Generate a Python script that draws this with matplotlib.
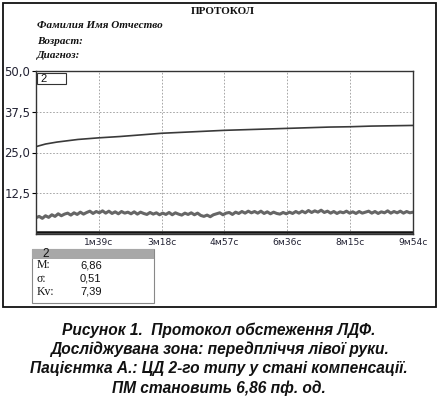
import numpy as np
import matplotlib.pyplot as plt
from matplotlib.patches import Rectangle

# ---- data ----
# upper (slowly rising) trace
upper_t = [0, 15, 33, 66, 99, 132, 165, 198, 231, 264, 297, 330, 363, 396,
           429, 462, 495, 528, 561, 594]
upper_v = [26.8, 27.6, 28.2, 29.0, 29.5, 29.9, 30.4, 30.9, 31.2, 31.5, 31.8,
           32.0, 32.2, 32.4, 32.6, 32.8, 32.9, 33.1, 33.2, 33.3]

# noisy perfusion trace, one value every 5 s
noisy_v = [
    5.0, 5.4, 4.8, 5.6, 5.1, 5.9, 5.4, 6.2, 5.6, 6.1,
    6.4, 5.8, 6.5, 6.0, 6.7, 6.1, 6.6, 7.0, 6.3, 6.9,
    6.5, 7.1, 6.4, 7.0, 6.3, 6.8, 6.2, 6.9, 6.4, 6.7,
    6.2, 6.8, 6.1, 6.7, 6.3, 6.0, 6.6, 6.1, 6.5, 5.9,
    6.4, 6.0, 6.6, 5.9, 6.5, 6.1, 5.8, 6.4, 6.0, 6.5,
    5.9, 6.4, 5.7, 5.4, 5.8, 5.3, 5.9, 6.2, 6.5, 5.9,
    6.4, 6.6, 6.0, 6.7, 6.3, 6.9, 6.4, 7.0, 6.5, 6.9,
    6.4, 7.0, 6.3, 6.8, 6.2, 6.7, 6.3, 6.1, 6.6, 6.2,
    6.7, 6.3, 6.9, 6.4, 7.0, 6.5, 7.2, 6.6, 7.1, 6.7,
    7.3, 6.6, 7.0, 6.4, 6.9, 6.3, 6.8, 6.5, 7.0, 6.4,
    6.8, 6.3, 6.9, 6.4, 6.7, 7.0, 6.4, 6.9, 6.3, 6.8,
    6.5, 7.1, 6.4, 6.9, 6.5, 7.0, 6.4, 6.9, 6.5, 6.7,
]
noisy_t = np.linspace(0, 594, len(noisy_v))

# baseline trace near zero
base_t = [0, 594]
base_v = [0.6, 0.6]

x_ticks = [99, 198, 297, 396, 495, 594]
x_labels = ["1м39с", "3м18с", "4м57с", "6м36с", "8м15с", "9м54с"]
y_ticks = [12.5, 25.0, 37.5, 50.0]
y_labels = ["12,5", "25,0", "37,5", "50,0"]

stat_names = ["M:", "σ:", "Kv:"]
stat_values = ["6,86", "0,51", "7,39"]

caption = [
    "Рисунок 1.  Протокол обстеження ЛДФ.",
    "Досліджувана зона: передпліччя лівої руки.",
    "Пацієнтка А.: ЦД 2-го типу у стані компенсації.",
    "ПМ становить 6,86 пф. од.",
]

W, H = 439, 398
fig = plt.figure(figsize=(W / 100, H / 100), dpi=100)
fig.patch.set_facecolor("white")


def fx(px):
    return px / W


def fy(py):
    return 1 - py / H


# outer frame of the protocol
fig.patches.append(Rectangle((fx(3), fy(307)), fx(433), (307 - 3) / H,
                             transform=fig.transFigure, fill=False,
                             edgecolor="#111111", linewidth=1.3))

serif = "Liberation Serif"
fig.text(fx(223), fy(11), "ПРОТОКОЛ", ha="center", va="center",
         family=serif, fontweight="bold", fontsize=8, color="#111111")
fig.text(fx(37), fy(25), "Фамилия Имя Отчество", ha="left", va="center",
         family=serif, fontweight="bold", style="italic", fontsize=8, color="#111111")
fig.text(fx(37), fy(41), "Возраст:", ha="left", va="center",
         family=serif, fontweight="bold", style="italic", fontsize=8, color="#111111")
fig.text(fx(37), fy(56), "Диагноз:", ha="left", va="center",
         family=serif, fontweight="bold", style="italic", fontsize=8, color="#111111")

# ---- chart ----
ax = fig.add_axes([fx(36), fy(234), fx(413 - 36), (234 - 71) / H])
ax.plot(upper_t, upper_v, color="#3a3a3a", linewidth=1.2)
ax.plot(noisy_t, noisy_v, color="#666666", linewidth=2.2)
ax.plot(base_t, base_v, color="#111111", linewidth=1.8)
ax.set_xlim(0, 594)
ax.set_ylim(0, 50)
ax.set_xticks(x_ticks)
ax.set_xticklabels(x_labels)
ax.set_yticks(y_ticks)
ax.set_yticklabels(y_labels)
ax.tick_params(axis="x", length=0, pad=3, labelsize=6.6, labelcolor="#222233")
ax.tick_params(axis="y", length=3, pad=1, labelsize=8.4, labelcolor="#222233")
ax.grid(True, color="#999999", linestyle=(0, (2, 2)), linewidth=0.6)
for s in ax.spines.values():
    s.set_color("#333333")
    s.set_linewidth(1.0)

# channel box
fig.patches.append(Rectangle((fx(37), fy(84)), fx(29), 11 / H,
                             transform=fig.transFigure, facecolor="white",
                             edgecolor="#333333", linewidth=0.8, zorder=5))
fig.text(fx(40), fy(78.5), "2", ha="left", va="center", fontsize=8,
         family="Liberation Sans", color="#111111", zorder=6)

# stats box
fig.patches.append(Rectangle((fx(32), fy(303)), fx(122), (303 - 249) / H,
                             transform=fig.transFigure, facecolor="white",
                             edgecolor="#888888", linewidth=0.8))
fig.patches.append(Rectangle((fx(32), fy(259)), fx(122), 10 / H,
                             transform=fig.transFigure, facecolor="#a8a8a8",
                             edgecolor="none"))
fig.text(fx(42), fy(254), "2", ha="left", va="center", fontsize=8.5,
         family="Liberation Sans", color="#111111")
for i, (nm, val) in enumerate(zip(stat_names, stat_values)):
    yy = fy(265 + i * 13.5)
    fig.text(fx(37), yy, nm, ha="left", va="center", fontsize=8.5,
             family=serif, color="#111111")
    fig.text(fx(80), yy, val, ha="left", va="center", fontsize=8,
             family="Liberation Sans", color="#111111")

# caption
for i, line in enumerate(caption):
    fig.text(fx(219), fy(330 + i * 19.3), line, ha="center", va="center",
             family="Liberation Sans", fontweight="bold", style="italic",
             fontsize=11.2, color="#111111")

fig.savefig("out.png", dpi=100, facecolor="white")
